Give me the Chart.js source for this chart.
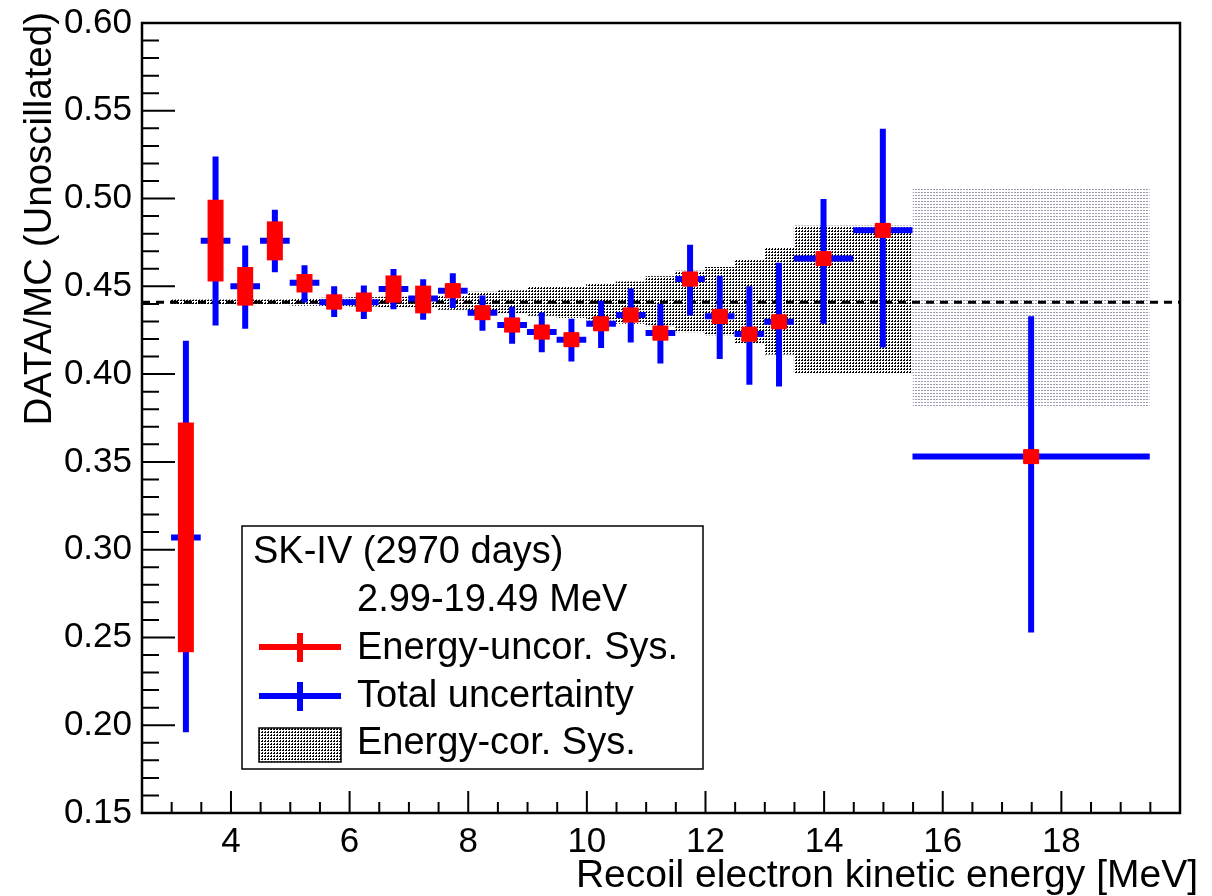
<!DOCTYPE html>
<html>
<head>
<meta charset="utf-8">
<script src="https://cdn.jsdelivr.net/npm/chart.js@4/dist/chart.umd.min.js"></script>
<style>
  body { margin: 0; background: #fff; }
  #wrap { width: 1212px; height: 896px; }
</style>
</head>
<body>
<div id="wrap"><canvas id="chart" width="1212" height="896"></canvas></div>
<script>
// bins in recoil electron kinetic energy [MeV]
const binLo = [2.99, 3.49, 3.99, 4.49, 4.99, 5.49, 5.99, 6.49, 6.99, 7.49, 7.99, 8.49,
               8.99, 9.49, 9.99, 10.49, 10.99, 11.49, 11.99, 12.49, 12.99, 13.49, 14.49, 15.49];
const binHi = [3.49, 3.99, 4.49, 4.99, 5.49, 5.99, 6.49, 6.99, 7.49, 7.99, 8.49, 8.99,
               9.49, 9.99, 10.49, 10.99, 11.49, 11.99, 12.49, 12.99, 13.49, 14.49, 15.49, 19.49];

// DATA/MC ratio
const ratio = [0.307, 0.476, 0.450, 0.476, 0.452, 0.441, 0.441, 0.4485, 0.443, 0.4475, 0.435, 0.428,
               0.424, 0.4196, 0.4287, 0.4337, 0.4234, 0.4542, 0.4329, 0.4228, 0.4298, 0.4658, 0.4819, 0.353];

// energy-uncorrelated systematics (red)
const uncorLo = [0.2415, 0.4528, 0.439, 0.4648, 0.4465, 0.437, 0.4355, 0.4407, 0.4346, 0.4433, 0.4308, 0.4238,
                 0.4198, 0.4156, 0.4245, 0.4295, 0.4192, 0.450, 0.4287, 0.4186, 0.4259, 0.4618, 0.4779, 0.349];
const uncorHi = [0.3725, 0.4993, 0.461, 0.487, 0.457, 0.4454, 0.4465, 0.4562, 0.4504, 0.4517, 0.439, 0.432,
                 0.428, 0.4236, 0.4327, 0.4377, 0.4274, 0.4582, 0.4369, 0.4266, 0.4338, 0.4698, 0.4859, 0.357];

// total uncertainty (blue)
const totLo = [0.196, 0.4277, 0.4259, 0.458, 0.4408, 0.4325, 0.4314, 0.437, 0.431, 0.4376, 0.4247, 0.4173,
               0.4124, 0.4072, 0.4149, 0.418, 0.406, 0.4334, 0.4086, 0.394, 0.393, 0.4287, 0.4152, 0.2528];
const totHi = [0.419, 0.524, 0.4733, 0.4936, 0.462, 0.450, 0.4505, 0.4599, 0.454, 0.4574, 0.4448, 0.4384,
               0.4351, 0.4316, 0.4418, 0.4487, 0.4401, 0.4737, 0.456, 0.450, 0.4635, 0.4997, 0.5398, 0.4329];

// energy-correlated systematics band
const corLo = [0.4395, 0.4395, 0.4395, 0.4395, 0.4395, 0.439, 0.4388, 0.4385, 0.4382, 0.438, 0.4367, 0.4357,
               0.4348, 0.4333, 0.432, 0.4306, 0.4287, 0.4272, 0.4238, 0.4221, 0.4172, 0.4111, 0.4002, 0.3813];
const corHi = [0.4425, 0.4425, 0.4425, 0.4425, 0.4425, 0.443, 0.4435, 0.4438, 0.444, 0.4442, 0.4447, 0.4469,
               0.4477, 0.4496, 0.450, 0.4513, 0.4528, 0.4557, 0.4589, 0.461, 0.4656, 0.4722, 0.4845, 0.506];

const meanRatio = 0.441;

const xTicks = [4, 6, 8, 10, 12, 14, 16, 18];
const yTicks = [0.15, 0.20, 0.25, 0.30, 0.35, 0.40, 0.45, 0.50, 0.55, 0.60];

const FONT = '"Liberation Sans", Arial, Helvetica, sans-serif';
Chart.defaults.font.family = FONT;
Chart.defaults.color = '#000';

function makePattern(rows, color) {
    const c = document.createElement('canvas');
    c.width = rows[0].length;
    c.height = rows.length;
    const g = c.getContext('2d');
    g.fillStyle = color;
    rows.forEach((row, j) => {
        for (let i = 0; i < row.length; i++) {
            if (row[i] === 'x') g.fillRect(i, j, 1, 1);
        }
    });
    return g.createPattern(c, 'repeat');
}
const densePattern = makePattern(['xx.', '...', '.x.'], '#000');
const lightPattern = makePattern(['xx.', '...', '...'], '#9a9ab4');

function stepped(from, to, vals) {
    const pts = [];
    for (let i = from; i < to; i++) pts.push({ x: binLo[i], y: vals[i] });
    pts.push({ x: binHi[to - 1], y: vals[to - 1] });
    return pts;
}

function bandSet(data, pattern, fill, order) {
    return {
        type: 'line', data: data, stepped: 'after', fill: fill,
        backgroundColor: pattern, borderColor: 'rgba(0,0,0,0)', borderWidth: 0,
        pointRadius: 0, order: order
    };
}

const last = binLo.length - 1;

const markers = {
    type: 'scatter',
    data: ratio.map((r, i) => ({ x: (binLo[i] + binHi[i]) / 2, y: r })),
    pointStyle: 'rect', pointRadius: 10.6, borderWidth: 0,
    backgroundColor: '#ff0000', order: 0
};

const errorBars = {
    id: 'errorBars',
    beforeDatasetDraw(chart, args) {
        if (args.index !== 0) return;
        const { ctx, scales: { x, y } } = chart;
        ctx.save();
        ctx.lineCap = 'butt';
        ctx.strokeStyle = '#0000ff';
        ctx.lineWidth = 6;
        ratio.forEach((r, i) => {
            const yc = y.getPixelForValue(r);
            const xc = x.getPixelForValue((binLo[i] + binHi[i]) / 2);
            ctx.beginPath();
            ctx.moveTo(x.getPixelForValue(binLo[i]), yc);
            ctx.lineTo(x.getPixelForValue(binHi[i]), yc);
            ctx.moveTo(xc, y.getPixelForValue(totHi[i]));
            ctx.lineTo(xc, y.getPixelForValue(totLo[i]));
            ctx.stroke();
        });
        ctx.strokeStyle = '#ff0000';
        ctx.lineWidth = 16;
        ratio.forEach((r, i) => {
            const xc = x.getPixelForValue((binLo[i] + binHi[i]) / 2);
            ctx.beginPath();
            ctx.moveTo(xc, y.getPixelForValue(uncorHi[i]));
            ctx.lineTo(xc, y.getPixelForValue(uncorLo[i]));
            ctx.stroke();
        });
        ctx.restore();
    }
};

const frameAndLegend = {
    id: 'frameAndLegend',
    afterDraw(chart) {
        const { ctx, chartArea: a, scales: { x, y } } = chart;
        ctx.save();
        ctx.strokeStyle = '#000';
        // inward ticks
        ctx.lineWidth = 2;
        ctx.beginPath();
        for (let v = 3; v <= 19.5; v += 0.5) {
            const px = x.getPixelForValue(v);
            const len = xTicks.includes(v) ? 22 : 11;
            ctx.moveTo(px, a.bottom);
            ctx.lineTo(px, a.bottom - len);
        }
        for (let k = 16; k < 60; k++) {
            const py = y.getPixelForValue(k / 100);
            const len = k % 5 === 0 ? 33 : 17;
            ctx.moveTo(a.left, py);
            ctx.lineTo(a.left + len, py);
        }
        ctx.stroke();
        // frame
        ctx.lineWidth = 2.5;
        ctx.strokeRect(a.left, a.top, a.right - a.left, a.bottom - a.top);

        // axis titles, ROOT style: right / top aligned
        ctx.fillStyle = '#000';
        ctx.textBaseline = 'alphabetic';
        ctx.textAlign = 'right';
        ctx.font = '39px ' + FONT;
        ctx.fillText('Recoil electron kinetic energy [MeV]', a.right + 18, 887);
        ctx.save();
        ctx.font = '38.5px ' + FONT;
        ctx.translate(51, a.top - 11);
        ctx.rotate(-Math.PI / 2);
        ctx.fillText('DATA/MC (Unoscillated)', 0, 0);
        ctx.restore();

        // legend box
        const L = a.left + 100, T = a.top + 503, R = a.left + 561, B = a.top + 746;
        ctx.fillStyle = '#fff';
        ctx.fillRect(L, T, R - L, B - T);
        ctx.lineWidth = 1.5;
        ctx.strokeRect(L, T, R - L, B - T);
        ctx.fillStyle = '#000';
        ctx.font = '38px ' + FONT;
        ctx.textBaseline = 'middle';
        ctx.textAlign = 'left';
        ctx.fillText('SK-IV (2970 days)', L + 11, T + 27);
        ctx.fillText('2.99-19.49 MeV', L + 115, T + 75);
        ctx.fillText('Energy-uncor. Sys.', L + 115, T + 123);
        ctx.fillText('Total uncertainty', L + 115, T + 171);
        ctx.fillText('Energy-cor. Sys.', L + 115, T + 218);

        ctx.lineWidth = 6;
        [['#ff0000', T + 121], ['#0000ff', T + 170]].forEach(([col, yy]) => {
            ctx.strokeStyle = col;
            ctx.beginPath();
            ctx.moveTo(L + 17, yy);
            ctx.lineTo(L + 99, yy);
            ctx.moveTo(L + 58, yy - 14);
            ctx.lineTo(L + 58, yy + 15);
            ctx.stroke();
        });
        ctx.fillStyle = densePattern;
        ctx.fillRect(L + 17, T + 202, 82, 34);
        ctx.strokeStyle = '#000';
        ctx.lineWidth = 1.5;
        ctx.strokeRect(L + 17, T + 202, 82, 34);
        ctx.restore();
    }
};

new Chart(document.getElementById('chart'), {
    type: 'scatter',
    data: {
        datasets: [
            markers,
            {
                type: 'line',
                data: [{ x: 2.5, y: meanRatio }, { x: 20, y: meanRatio }],
                borderColor: '#000', borderWidth: 3, borderDash: [8, 6],
                pointRadius: 0, fill: false, order: 1
            },
            bandSet(stepped(last, last + 1, corHi), lightPattern, '+1', 2),
            bandSet(stepped(last, last + 1, corLo), lightPattern, false, 3),
            bandSet(stepped(0, last, corHi), densePattern, '+1', 4),
            bandSet(stepped(0, last, corLo), densePattern, false, 5)
        ]
    },
    options: {
        responsive: false,
        animation: false,
        devicePixelRatio: 1,
        layout: { padding: { top: 23, right: 32, left: 0, bottom: 0 } },
        plugins: { legend: { display: false }, tooltip: { enabled: false } },
        scales: {
            x: {
                type: 'linear', min: 2.5, max: 20,
                afterFit: s => { s.height = 83; s.paddingLeft = 0; s.paddingRight = 0; },
                afterBuildTicks: s => { s.ticks = xTicks.map(v => ({ value: v })); },
                grid: { display: false, drawTicks: false },
                border: { display: false },
                ticks: { font: { size: 35 }, padding: 8, maxRotation: 0, autoSkip: false }
            },
            y: {
                type: 'linear', min: 0.15, max: 0.6,
                afterFit: s => { s.width = 142; s.paddingTop = 0; s.paddingBottom = 0; },
                afterBuildTicks: s => { s.ticks = yTicks.map(v => ({ value: v })); },
                grid: { display: false, drawTicks: false },
                border: { display: false },
                ticks: { font: { size: 35 }, padding: 10, callback: v => v.toFixed(2), autoSkip: false }
            }
        }
    },
    plugins: [errorBars, frameAndLegend]
});
</script>
</body>
</html>
